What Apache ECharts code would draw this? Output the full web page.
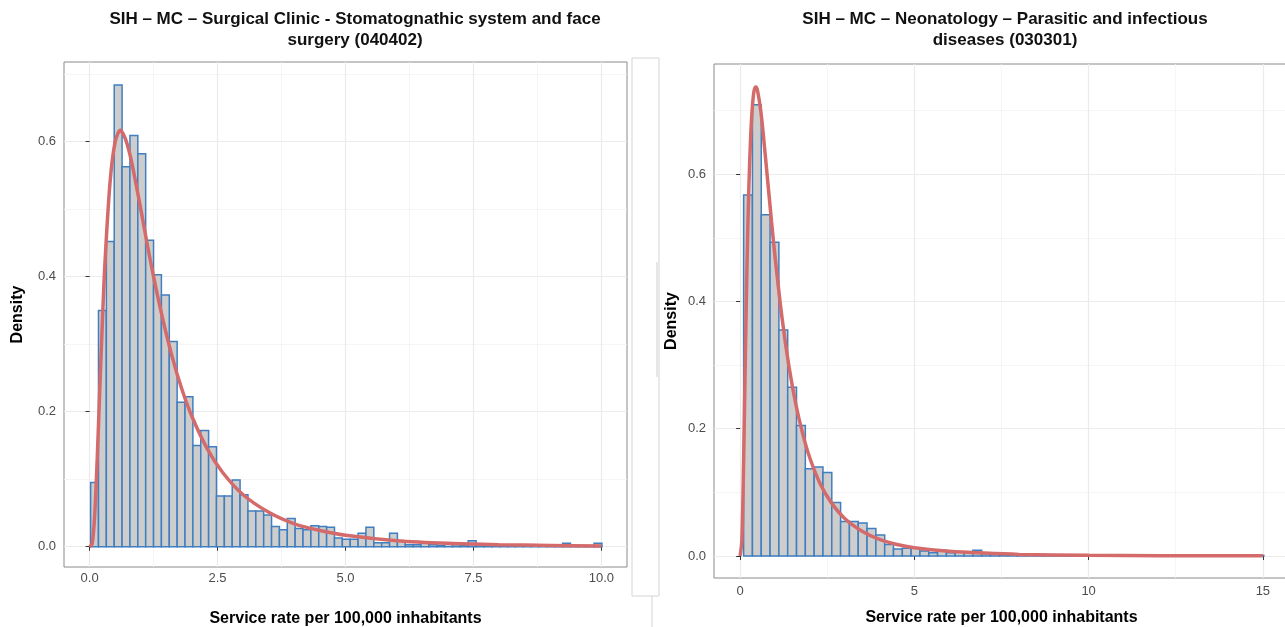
<!DOCTYPE html>
<html>
<head>
<meta charset="utf-8">
<title>Service rate histograms</title>
<script src="https://cdn.jsdelivr.net/npm/echarts@6/dist/echarts.min.js"></script>
<style>
  html, body { margin: 0; padding: 0; background: #fff; }
  #chart { width: 1285px; height: 627px; }
</style>
</head>
<body>
<div id="chart"></div>
<script>
// ---- left panel: surgical clinic (040402)
const leftTitle = 'SIH – MC – Surgical Clinic - Stomatognathic system and face\nsurgery (040402)';
const leftBinStart = 0.02;
const leftBinWidth = 0.1537;
const leftDensity = [
  0.095, 0.350, 0.452, 0.684, 0.563, 0.609, 0.582, 0.454, 0.403, 0.373,
  0.304, 0.214, 0.222, 0.150, 0.172, 0.148, 0.075, 0.075, 0.099, 0.077,
  0.053, 0.053, 0.047, 0.030, 0.025, 0.042, 0.027, 0.025, 0.031, 0.030,
  0.029, 0.013, 0.011, 0.011, 0.020, 0.029, 0.006, 0.006, 0.020, 0.008,
  0.003, 0.003, 0.007, 0.003, 0.002, 0.004, 0.003, 0.002, 0.009, 0.004,
  0.003, 0.002, 0.001, 0.002, 0.001, 0.001, 0.001, 0.002, 0.001, 0.001,
  0.005, 0.001, 0.001, 0.001, 0.005
];
const leftCurveX = [0, 0.05, 0.1, 0.15, 0.2, 0.25, 0.3, 0.4, 0.5, 0.6, 0.7, 0.8, 0.9, 1.0,
  1.2, 1.4, 1.6, 1.8, 2.0, 2.3, 2.6, 3.0, 3.5, 4.0, 4.5, 5.0, 6.0, 7.0, 8.0, 9.0, 10.0];
const leftCurveY = [0, 0.004, 0.047, 0.132, 0.235, 0.333, 0.420, 0.540, 0.600, 0.617, 0.604, 0.577, 0.540, 0.500,
  0.419, 0.347, 0.285, 0.234, 0.193, 0.145, 0.110, 0.077, 0.051, 0.034, 0.024, 0.017, 0.009, 0.005, 0.003, 0.002, 0.001];
const leftXTicks = [0, 2.5, 5, 7.5, 10];
const leftXLabels = ['0.0', '2.5', '5.0', '7.5', '10.0'];
const leftXMinor = [1.25, 3.75, 6.25, 8.75];

// ---- right panel: neonatology (030301)
const rightTitle = 'SIH – MC – Neonatology – Parasitic and infectious\ndiseases (030301)';
const rightBinStart = 0.10;
const rightBinWidth = 0.253;
const rightDensity = [
  0.567, 0.709, 0.536, 0.493, 0.355, 0.265, 0.205, 0.137, 0.140, 0.131,
  0.084, 0.054, 0.054, 0.052, 0.043, 0.033, 0.018, 0.011, 0.012, 0.013,
  0.008, 0.005, 0.009, 0.005, 0.006, 0.005, 0.009, 0.004, 0.003, 0.002,
  0.002, 0.001, 0.002, 0.001, 0.001, 0.001, 0, 0.001, 0, 0,
  0.001, 0, 0, 0, 0, 0.001, 0, 0, 0, 0,
  0, 0, 0, 0, 0, 0, 0, 0, 0.001
];
const rightCurveX = [0, 0.05, 0.1, 0.15, 0.2, 0.25, 0.3, 0.35, 0.4, 0.45, 0.5, 0.6, 0.7, 0.8, 0.9, 1.0,
  1.2, 1.4, 1.6, 1.8, 2.0, 2.3, 2.6, 3.0, 3.5, 4.0, 4.5, 5.0, 6.0, 7.0, 8.0, 10.0, 12.0, 15.0];
const rightCurveY = [0, 0.025, 0.150, 0.315, 0.465, 0.578, 0.656, 0.705, 0.731, 0.737, 0.731, 0.696, 0.642, 0.584, 0.526, 0.471,
  0.375, 0.298, 0.238, 0.191, 0.154, 0.113, 0.085, 0.059, 0.039, 0.026, 0.018, 0.013, 0.0075, 0.0045, 0.0025, 0.001, 0.0005, 0.0002];
const rightXTicks = [0, 5, 10, 15];
const rightXLabels = ['0', '5', '10', '15'];
const rightXMinor = [2.5, 7.5, 12.5];

const yTicks = [0, 0.2, 0.4, 0.6];
const yLabels = ['0.0', '0.2', '0.4', '0.6'];
const yMinor = [0.1, 0.3, 0.5, 0.7];

const FONT = '"Liberation Sans", Arial, sans-serif';
const GRID_LINE = '#ebebeb';
const BAR_FILL = '#cdcdcd';
const BAR_STROKE = '#3f7fc0';
const CURVE = '#d56a6a';

function binItems(start, width, dens) {
  return dens.map((d, i) => [start + i * width, start + (i + 1) * width, d]);
}

function curvePoints(xs, ys) {
  return xs.map((x, i) => [x, ys[i]]);
}

function renderBin(params, api) {
  const p0 = api.coord([api.value(0), api.value(2)]);
  const p1 = api.coord([api.value(1), 0]);
  return {
    type: 'rect',
    shape: { x: p0[0], y: p0[1], width: p1[0] - p0[0], height: p1[1] - p0[1] },
    style: { fill: BAR_FILL, stroke: BAR_STROKE, lineWidth: 1.5 }
  };
}

function majorX(gridIndex, min, max, ticks, labels, labelMargin, nameGap) {
  return {
    type: 'value', gridIndex, min, max,
    axisLine: { show: false },
    axisTick: { show: true, customValues: ticks, length: 4, lineStyle: { color: '#333' } },
    axisLabel: {
      customValues: ticks, color: '#4d4d4d', fontSize: 13, fontFamily: FONT, margin: labelMargin,
      formatter: v => labels[ticks.indexOf(v)] ?? ''
    },
    splitLine: { show: true, lineStyle: { color: GRID_LINE, width: 1.2 } },
    name: 'Service rate per 100,000 inhabitants', nameLocation: 'middle', nameGap,
    nameTextStyle: { fontSize: 16, fontWeight: 'bold', color: '#000', fontFamily: FONT }
  };
}

function majorY(gridIndex, min, max, nameGap) {
  return {
    type: 'value', gridIndex, min, max,
    axisLine: { show: false },
    axisTick: { show: true, customValues: yTicks, length: 4, lineStyle: { color: '#333' } },
    axisLabel: {
      customValues: yTicks, color: '#4d4d4d', fontSize: 13, fontFamily: FONT, margin: 8,
      formatter: v => yLabels[yTicks.indexOf(v)] ?? ''
    },
    splitLine: { show: true, lineStyle: { color: GRID_LINE, width: 1.2 } },
    name: 'Density', nameLocation: 'middle', nameGap,
    nameTextStyle: { fontSize: 16, fontWeight: 'bold', color: '#000', fontFamily: FONT }
  };
}

function minorAxis(gridIndex, min, max, values) {
  return {
    type: 'value', gridIndex, min, max,
    axisLine: { show: false },
    axisTick: { show: false, customValues: values },
    axisLabel: { show: false },
    splitLine: { show: true, lineStyle: { color: '#f3f3f3', width: 0.8 } }
  };
}

const chart = echarts.init(document.getElementById('chart'), null, { renderer: 'canvas' });

chart.setOption({
  animation: false,
  backgroundColor: '#fff',
  grid: [
    { left: 64, top: 62, width: 563, height: 505, outerBoundsMode: 'none', containLabel: false,
      show: true, borderColor: '#8a8a8a', borderWidth: 1, backgroundColor: 'transparent' },
    { left: 714, top: 64, width: 575, height: 514, outerBoundsMode: 'none', containLabel: false,
      show: true, borderColor: '#8a8a8a', borderWidth: 1, backgroundColor: 'transparent' }
  ],
  xAxis: [
    majorX(0, -0.5, 10.5, leftXTicks, leftXLabels, 5, 44),
    minorAxis(0, -0.5, 10.5, leftXMinor),
    majorX(1, -0.75, 15.75, rightXTicks, rightXLabels, 7, 32),
    minorAxis(1, -0.75, 15.75, rightXMinor)
  ],
  yAxis: [
    majorY(0, -0.030, 0.718, 38),
    minorAxis(0, -0.030, 0.718, yMinor),
    majorY(1, -0.0346, 0.773, 34),
    minorAxis(1, -0.0346, 0.773, yMinor)
  ],
  graphic: [
    { type: 'text', x: 355, y: 9, style: { text: leftTitle, font: 'bold 17px ' + FONT, textAlign: 'center', lineHeight: 21, fill: '#111' } },
    { type: 'text', x: 1005, y: 9, style: { text: rightTitle, font: 'bold 17px ' + FONT, textAlign: 'center', lineHeight: 21, fill: '#111' } },
    // stray frame lines between the two panels
    { type: 'polyline', shape: { points: [[632, 58], [632, 596], [652, 596], [652, 627]] }, style: { stroke: '#d4d4d4', lineWidth: 1, fill: null } },
    { type: 'polyline', shape: { points: [[632, 58], [659, 58], [659, 596], [652, 596]] }, style: { stroke: '#d4d4d4', lineWidth: 1, fill: null } },
    { type: 'line', shape: { x1: 657, y1: 262, x2: 657, y2: 377 }, style: { stroke: '#cfcfcf', lineWidth: 1 } }
  ],
  series: [
    {
      type: 'custom', xAxisIndex: 0, yAxisIndex: 0,
      renderItem: renderBin, encode: { x: [0, 1], y: 2 },
      data: binItems(leftBinStart, leftBinWidth, leftDensity), z: 2
    },
    {
      type: 'line', xAxisIndex: 0, yAxisIndex: 0,
      data: curvePoints(leftCurveX, leftCurveY),
      smooth: 0.3, showSymbol: false, z: 3,
      lineStyle: { color: CURVE, width: 3.5 }
    },
    {
      type: 'custom', xAxisIndex: 2, yAxisIndex: 2,
      renderItem: renderBin, encode: { x: [0, 1], y: 2 },
      data: binItems(rightBinStart, rightBinWidth, rightDensity), z: 2
    },
    {
      type: 'line', xAxisIndex: 2, yAxisIndex: 2,
      data: curvePoints(rightCurveX, rightCurveY),
      smooth: 0.3, showSymbol: false, z: 3,
      lineStyle: { color: CURVE, width: 3.5 }
    }
  ]
});
</script>
</body>
</html>
